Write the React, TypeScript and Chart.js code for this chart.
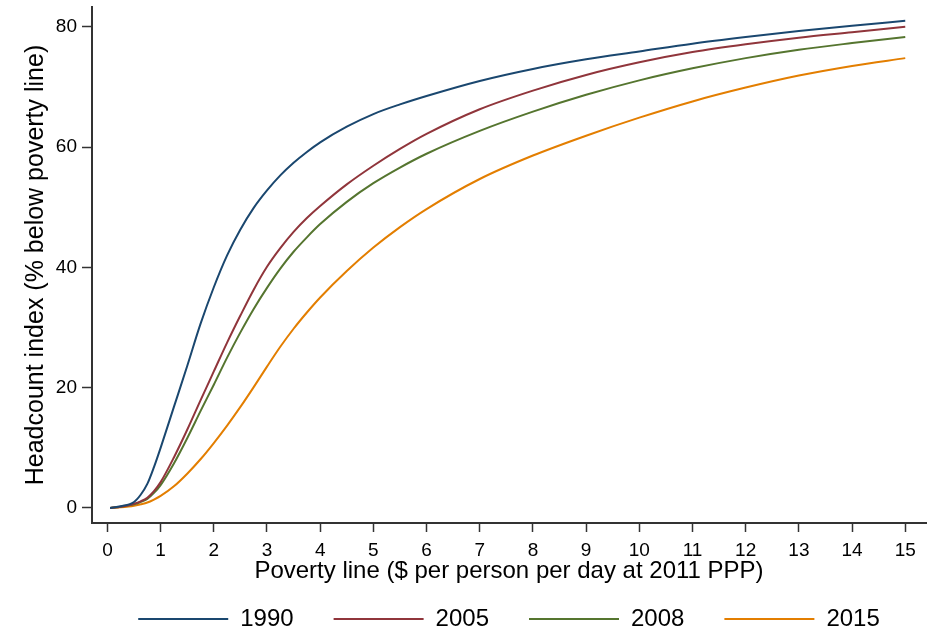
import React, { useEffect, useRef } from "react";
import { Chart, registerables } from "chart.js";

Chart.register(...registerables);

const POVERTY_LINES = [0.05, 0.25, 0.5, 0.625, 0.75, 0.875, 1, 1.25, 1.5, 1.75, 2, 2.25, 2.5, 2.75, 3, 3.25, 3.5, 3.75, 4, 4.5, 5, 5.5, 6, 7, 8, 9, 10, 11, 12, 13, 14, 15];
const H1990 = [0, 0.3, 1.0, 2.2, 4.0, 6.8, 10.0, 16.8, 23.6, 30.6, 36.7, 42, 46.3, 49.9, 52.8, 55.3, 57.4, 59.2, 60.8, 63.4, 65.5, 67.1, 68.5, 71, 73, 74.6, 75.9, 77.2, 78.3, 79.3, 80.2, 81];
const H2005 = [0, 0.2, 0.7, 1.1, 1.7, 2.8, 4.3, 8.4, 13, 17.9, 22.7, 27.5, 32, 36.3, 40.1, 43.2, 45.9, 48.2, 50.2, 53.8, 56.9, 59.7, 62.2, 66.3, 69.4, 72, 74.1, 75.8, 77.1, 78.2, 79.1, 80];
const H2008 = [0, 0.2, 0.6, 1.0, 1.5, 2.5, 3.8, 7.4, 11.6, 16.1, 20.5, 25, 29.2, 33.1, 36.6, 39.8, 42.6, 45, 47.2, 50.9, 54, 56.6, 58.9, 62.7, 65.9, 68.7, 71.1, 73.1, 74.8, 76.2, 77.3, 78.3];
const H2015 = [0, 0.1, 0.35, 0.6, 0.9, 1.4, 2, 3.6, 5.7, 8.1, 10.8, 13.7, 16.8, 20.1, 23.5, 26.8, 29.8, 32.5, 35, 39.4, 43.3, 46.7, 49.7, 54.7, 58.6, 61.9, 64.9, 67.6, 69.9, 71.9, 73.5, 74.8];

const SERIES_LABELS = ["1990", "2005", "2008", "2015"];
const SERIES_COLORS = ["#1a476f", "#90353b", "#55752f", "#e37e00"];
const X_TICKS = [0, 1, 2, 3, 4, 5, 6, 7, 8, 9, 10, 11, 12, 13, 14, 15];
const Y_TICKS = [0, 20, 40, 60, 80];

const FONT = "Arial, 'Liberation Sans', sans-serif";

export default function App() {
  const ref = useRef<HTMLCanvasElement | null>(null);

  useEffect(() => {
    document.body.style.margin = "0";
    const canvas = ref.current;
    if (!canvas) return;
    const all = [H1990, H2005, H2008, H2015];
    const chart = new Chart(canvas, {
      type: "line",
      data: {
        datasets: all.map((vals, i) => ({
          label: SERIES_LABELS[i],
          data: POVERTY_LINES.map((x, j) => ({ x, y: vals[j] })),
          borderColor: SERIES_COLORS[i],
          backgroundColor: SERIES_COLORS[i],
          borderWidth: 2,
          pointRadius: 0,
          fill: false,
          cubicInterpolationMode: "monotone",
        })),
      },
      options: {
        animation: false,
        responsive: false,
        devicePixelRatio: 1,
        layout: { padding: { top: 7, right: 6, left: 0, bottom: 0 } },
        plugins: {
          tooltip: { enabled: false },
          legend: {
            position: "bottom",
            fullSize: false,
            maxHeight: 65,
            labels: {
              usePointStyle: true,
              pointStyle: "line",
              pointStyleWidth: 90,
              padding: 40,
              color: "#000",
              font: { family: FONT, size: 24 },
            },
          },
        },
        scales: {
          x: {
            type: "linear",
            min: -0.29,
            max: 15.39,
            afterFit: (s: any) => {
              s.height = 44;
              s.paddingLeft = 0;
              s.paddingRight = 0;
            },
            afterBuildTicks: (s: any) => {
              s.ticks = X_TICKS.map((v) => ({ value: v }));
            },
            ticks: {
              color: "#000",
              padding: 7,
              maxRotation: 0,
              autoSkip: false,
              font: { family: FONT, size: 19 },
            },
            grid: {
              drawOnChartArea: false,
              drawTicks: true,
              tickLength: 9,
              tickColor: "#333",
              tickWidth: 1.5,
            },
            border: { display: true, color: "#333", width: 2 },
            title: {
              display: true,
              text: "Poverty line ($ per person per day at 2011 PPP)",
              color: "#000",
              font: { family: FONT, size: 24 },
              padding: { top: 0, bottom: -19 },
            },
          },
          y: {
            type: "linear",
            min: -2.5,
            max: 83.3,
            afterFit: (s: any) => {
              s.width = 92;
              s.paddingTop = 0;
              s.paddingBottom = 0;
            },
            afterBuildTicks: (s: any) => {
              s.ticks = Y_TICKS.map((v) => ({ value: v }));
            },
            ticks: {
              color: "#000",
              padding: 5,
              font: { family: FONT, size: 19 },
            },
            grid: {
              drawOnChartArea: false,
              drawTicks: true,
              tickLength: 10,
              tickColor: "#333",
              tickWidth: 1.5,
            },
            border: { display: true, color: "#333", width: 2 },
            title: {
              display: true,
              text: "Headcount index (% below poverty line)",
              color: "#000",
              font: { family: FONT, size: 25 },
              padding: { top: 21, bottom: 0 },
            },
          },
        },
      },
    });
    return () => chart.destroy();
  }, []);

  return (
    <div style={{ width: 932, height: 632, background: "#fff" }}>
      <canvas ref={ref} width={932} height={632} style={{ display: "block" }} />
    </div>
  );
}
